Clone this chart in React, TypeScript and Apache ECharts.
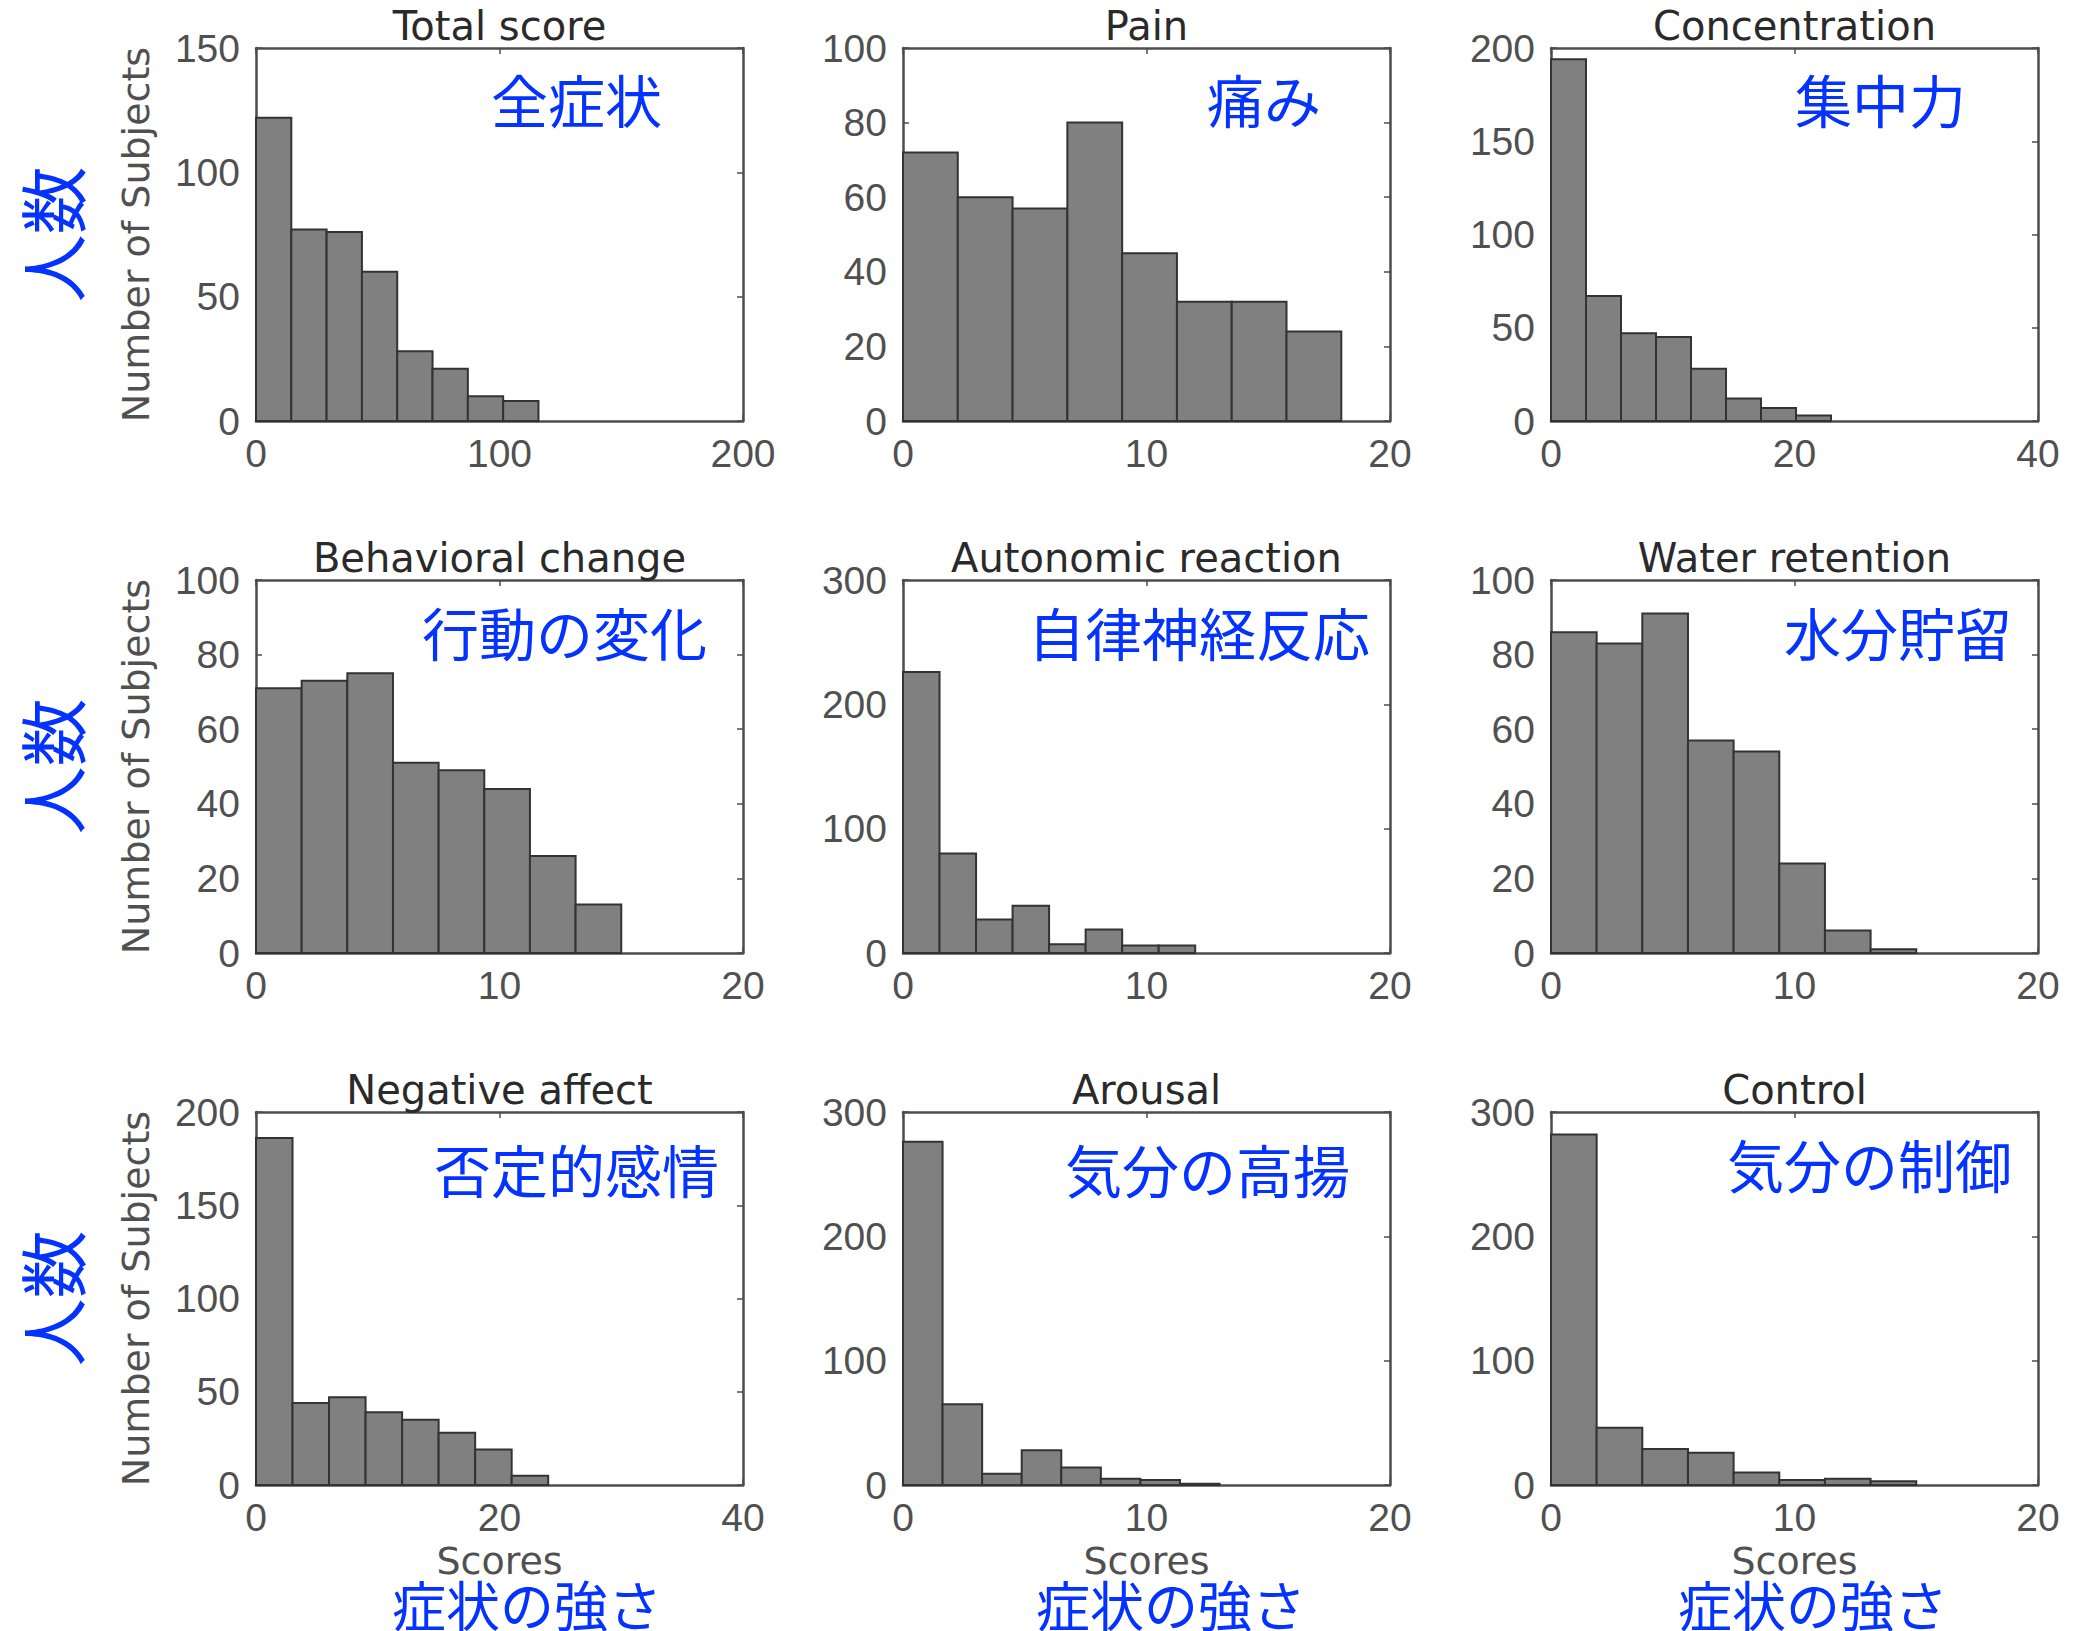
import React, { useEffect, useRef } from "react";
import * as echarts from "echarts";

// Histogram panels: symptom scores vs. number of subjects
const panelTitles = [
  "Total score", "Pain", "Concentration",
  "Behavioral change", "Autonomic reaction", "Water retention",
  "Negative affect", "Arousal", "Control",
];
const panelLabels = [
  "全症状", "痛み", "集中力",
  "行動の変化", "自律神経反応", "水分貯留",
  "否定的感情", "気分の高揚", "気分の制御",
];

const xMaxes = [200, 20, 40, 20, 20, 20, 40, 20, 20];
const xSteps = [100, 10, 20, 10, 10, 10, 20, 10, 10];
const yMaxes = [150, 100, 200, 100, 300, 100, 200, 300, 300];
const ySteps = [50, 20, 50, 20, 100, 20, 50, 100, 100];
const binWidths = [14.5, 2.25, 2.875, 1.875, 1.5, 1.875, 3, 1.625, 1.875];

const totalScore = [122, 77, 76, 60, 28, 21, 10, 8];
const pain = [72, 60, 57, 80, 45, 32, 32, 24];
const concentration = [194, 67, 47, 45, 28, 12, 7, 3];
const behavioralChange = [71, 73, 75, 51, 49, 44, 26, 13];
const autonomicReaction = [226, 80, 27, 38, 7, 19, 6, 6];
const waterRetention = [86, 83, 91, 57, 54, 24, 6, 1];
const negativeAffect = [186, 44, 47, 39, 35, 28, 19, 5];
const arousal = [276, 65, 9, 28, 14, 5, 4, 1];
const control = [282, 46, 29, 26, 10, 4, 5, 3];

const panelCounts = [
  totalScore, pain, concentration,
  behavioralChange, autonomicReaction, waterRetention,
  negativeAffect, arousal, control,
];

const yAxisTitle = "Number of Subjects";
const xAxisTitle = "Scores";
const yAxisTitleJa = "人数";
const xAxisTitleJa = "症状の強さ";

// Layout
const WIDTH = 2080;
const HEIGHT = 1631;
const colLefts = [256, 903, 1551];
const rowTops = [48, 580, 1112];
const plotW = 487;
const plotH = 373;
const labelSpots = [
  [491, 98], [1207, 98], [1795, 98],
  [422, 631], [1028, 631], [1784, 631],
  [434, 1168], [1065, 1168], [1727, 1163],
];
const xJaCenters = [527, 1171, 1813];

const DIGITS = "'Liberation Sans', Arial, sans-serif";
const LATIN = "'DejaVu Sans', Verdana, sans-serif";
const CJK = "'Noto Sans CJK JP', sans-serif";
const BLUE = "#0433ff";
const AXIS = "#4d4d4d";
const TICK_TEXT = "#505050";

function buildOption() {
  const grid: any[] = [];
  const xAxis: any[] = [];
  const yAxis: any[] = [];
  const series: any[] = [];
  const graphic: any[] = [];

  panelCounts.forEach((counts, i) => {
    const col = i % 3;
    const row = Math.floor(i / 3);
    const left = colLefts[col];
    const top = rowTops[row];
    grid.push({ left, top, width: plotW, height: plotH, containLabel: false });

    const lineStyle = { color: AXIS, width: 2.5 };
    const tick = { show: true, inside: true, length: 6, lineStyle: { color: AXIS, width: 1.5 } };

    xAxis.push({
      type: "value", gridIndex: i, position: "bottom",
      min: 0, max: xMaxes[i], interval: xSteps[i],
      axisLine: { show: true, onZero: false, lineStyle },
      axisTick: tick,
      splitLine: { show: false },
      axisLabel: { fontSize: 39, color: TICK_TEXT, fontFamily: DIGITS, margin: 13 },
    });
    xAxis.push({
      type: "value", gridIndex: i, position: "top",
      min: 0, max: xMaxes[i], interval: xSteps[i],
      axisLine: { show: true, onZero: false, lineStyle },
      axisTick: tick,
      splitLine: { show: false },
      axisLabel: { show: false },
    });
    yAxis.push({
      type: "value", gridIndex: i, position: "left",
      min: 0, max: yMaxes[i], interval: ySteps[i],
      axisLine: { show: true, onZero: false, lineStyle },
      axisTick: tick,
      splitLine: { show: false },
      axisLabel: { fontSize: 39, color: TICK_TEXT, fontFamily: DIGITS, margin: 16 },
    });
    yAxis.push({
      type: "value", gridIndex: i, position: "right",
      min: 0, max: yMaxes[i], interval: ySteps[i],
      axisLine: { show: true, onZero: false, lineStyle },
      axisTick: tick,
      splitLine: { show: false },
      axisLabel: { show: false },
    });

    const bw = binWidths[i];
    series.push({
      type: "custom",
      xAxisIndex: 2 * i,
      yAxisIndex: 2 * i,
      data: counts.map((c, k) => [k * bw, (k + 1) * bw, c]),
      encode: { x: [0, 1], y: 2 },
      renderItem: (_params: any, api: any) => {
        const a = api.coord([api.value(0), api.value(2)]);
        const b = api.coord([api.value(1), 0]);
        return {
          type: "rect",
          shape: { x: a[0], y: a[1], width: b[0] - a[0], height: b[1] - a[1] },
          style: { fill: "#808080", stroke: "#333333", lineWidth: 2 },
        };
      },
      z: 1,
    });

    // panel title sitting on the box
    graphic.push({
      type: "text",
      x: left + plotW / 2,
      y: top - 22,
      style: {
        text: panelTitles[i], fill: "#2a2a2a", fontSize: 40, fontFamily: LATIN,
        align: "center", verticalAlign: "middle",
      },
      z: 10,
    });

    // Japanese caption inside the box
    const [lx, ly] = labelSpots[i];
    graphic.push({
      type: "text",
      x: lx,
      y: ly,
      style: {
        text: panelLabels[i], fill: BLUE, fontSize: 57, fontFamily: CJK,
        align: "left", verticalAlign: "middle",
      },
      z: 10,
    });

    if (col === 0) {
      graphic.push({
        type: "text",
        x: 136,
        y: top + plotH / 2,
        rotation: Math.PI / 2,
        style: {
          text: yAxisTitle, fill: TICK_TEXT, fontSize: 38, fontFamily: LATIN,
          align: "center", verticalAlign: "middle",
        },
        z: 10,
      });
      graphic.push({
        type: "text",
        x: 50,
        y: top + plotH / 2,
        rotation: Math.PI / 2,
        style: {
          text: yAxisTitleJa, fill: BLUE, fontSize: 68, fontFamily: CJK,
          align: "center", verticalAlign: "middle",
        },
        z: 10,
      });
    }

    if (row === 2) {
      graphic.push({
        type: "text",
        x: left + plotW / 2,
        y: 1561,
        style: {
          text: xAxisTitle, fill: TICK_TEXT, fontSize: 38, fontFamily: LATIN,
          align: "center", verticalAlign: "middle",
        },
        z: 10,
      });
      graphic.push({
        type: "text",
        x: xJaCenters[col],
        y: 1603,
        style: {
          text: xAxisTitleJa, fill: BLUE, fontSize: 54, fontFamily: CJK,
          align: "center", verticalAlign: "middle",
        },
        z: 11,
      });
    }
  });

  return {
    animation: false,
    backgroundColor: "#ffffff",
    grid,
    xAxis,
    yAxis,
    series,
    graphic,
  };
}

export default function App() {
  const ref = useRef<HTMLDivElement>(null);

  useEffect(() => {
    document.body.style.margin = "0";
    if (!ref.current) return;
    const chart = echarts.init(ref.current, undefined, { renderer: "svg" });
    chart.setOption(buildOption() as any);
    return () => chart.dispose();
  }, []);

  return (
    <div
      ref={ref}
      style={{ position: "absolute", left: 0, top: 0, width: WIDTH, height: HEIGHT, background: "#fff" }}
    />
  );
}
